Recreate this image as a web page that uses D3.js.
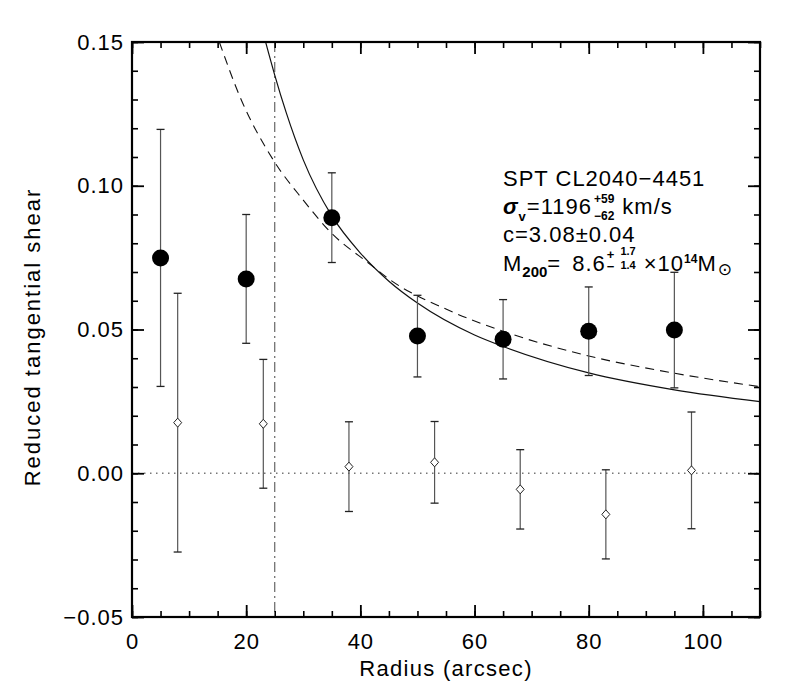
<!DOCTYPE html>
<html>
<head>
<meta charset="utf-8">
<script src="https://cdn.jsdelivr.net/npm/d3@7"></script>
<style>
body{margin:0;background:#fff;}
text{font-family:"Liberation Sans",Arial,sans-serif;fill:#000;}
</style>
</head>
<body>
<div id="canvas"></div>
<script>
// tangential shear bins (filled circles)
let radius = [5, 20, 35, 50, 65, 80, 95],
gammaT = [0.0749, 0.0676, 0.0889, 0.0477, 0.0466, 0.0494, 0.0498],
gammaErr = [0.0447, 0.0224, 0.0156, 0.0142, 0.0138, 0.0154, 0.0201];

// cross shear bins (open diamonds), shifted by 3 arcsec
let radiusX = [8, 23, 38, 53, 68, 83, 98],
gammaX = [0.0176, 0.0172, 0.0023, 0.0038, -0.0056, -0.0143, 0.0010],
gammaXErr = [0.0450, 0.0224, 0.0156, 0.0142, 0.0138, 0.0155, 0.0203];

// model curves
let nfwR = [23.4, 25, 27, 30, 35, 40, 45, 50, 60, 65, 80, 95, 110],
nfwG = [0.150, 0.1385, 0.1255, 0.1090, 0.0895, 0.0766, 0.0668, 0.0592, 0.0481, 0.0441, 0.0349, 0.0290, 0.0249];
let sisR = [15.3, 18.9, 24.8, 30, 34.7, 41.7, 45.2, 55, 65, 80, 95, 110],
sisG = [0.150, 0.1310, 0.1088, 0.0950, 0.0840, 0.0727, 0.0673, 0.0571, 0.0494, 0.0408, 0.0348, 0.0301];

let cutRadius = 25;

let xMajor = [0, 20, 40, 60, 80, 100],
xMinor = d3.range(0, 111, 5),
yMajor = [-0.05, 0, 0.05, 0.10, 0.15],
yMinor = d3.range(-5, 16, 1).map(d => d / 100);

let W = 800, H = 700,
pLeft = 132, pRight = 760, pTop = 42, pBottom = 617;

let canvas = d3.select('#canvas').append('svg').attr('width', W).attr('height', H);

let x = d3.scaleLinear().domain([0, 110]).range([pLeft, pRight]),
y = d3.scaleLinear().domain([-0.05, 0.15]).range([pBottom, pTop]);

canvas.append('defs').append('clipPath').attr('id', 'plotclip')
.append('rect')
.attr('x', pLeft).attr('y', pTop)
.attr('width', pRight - pLeft).attr('height', pBottom - pTop);

let plot = canvas.append('g').attr('clip-path', 'url(#plotclip)');

// zero line
plot.append('line')
.attr('x1', x(0)).attr('x2', x(110))
.attr('y1', y(0)).attr('y2', y(0))
.style('stroke', '#777')
.style('stroke-width', 1.3)
.style('stroke-dasharray', '1.5,4.5');

// inner radius cut
plot.append('line')
.attr('x1', x(cutRadius)).attr('x2', x(cutRadius))
.attr('y1', y(0.15)).attr('y2', y(-0.05))
.style('stroke', '#666')
.style('stroke-width', 1.2)
.style('stroke-dasharray', '10,4,2,4');

let line = d3.line().curve(d3.curveMonotoneX)
.x(d => x(d[0]))
.y(d => y(d[1]));

//NFW fit
plot.append('path')
.datum(d3.zip(nfwR, nfwG))
.attr('d', line)
.style('fill', 'none')
.style('stroke', '#111')
.style('stroke-width', 1.2);

//SIS fit
plot.append('path')
.datum(d3.zip(sisR, sisG))
.attr('d', line)
.style('fill', 'none')
.style('stroke', '#111')
.style('stroke-width', 1.1)
.style('stroke-dasharray', '9,6');

// error bars
function drawErrors(rs, vs, es){
	let g = plot.append('g');
	let data = d3.zip(rs, vs, es);
	g.selectAll('.ebar').data(data).enter().append('line')
	.attr('x1', d => x(d[0])).attr('x2', d => x(d[0]))
	.attr('y1', d => y(d[1] - d[2])).attr('y2', d => y(d[1] + d[2]))
	.style('stroke', '#555')
	.style('stroke-width', 1.2);
	[-1, 1].forEach(s => {
		g.selectAll('.ecap' + s).data(data).enter().append('line')
		.attr('x1', d => x(d[0]) - 4).attr('x2', d => x(d[0]) + 4)
		.attr('y1', d => y(d[1] + s * d[2])).attr('y2', d => y(d[1] + s * d[2]))
		.style('stroke', '#222')
		.style('stroke-width', 1.3);
	});
}
drawErrors(radius, gammaT, gammaErr);
drawErrors(radiusX, gammaX, gammaXErr);

plot.append('g').selectAll('circle')
.data(d3.zip(radius, gammaT))
.enter().append('circle')
.attr('cx', d => x(d[0]))
.attr('cy', d => y(d[1]))
.attr('r', 8.5)
.style('fill', '#000');

plot.append('g').selectAll('path')
.data(d3.zip(radiusX, gammaX))
.enter().append('path')
.attr('d', d => {
	let cx = x(d[0]), cy = y(d[1]);
	return 'M' + cx + ',' + (cy - 4.5) + 'L' + (cx + 4) + ',' + cy + 'L' + cx + ',' + (cy + 4.5) + 'L' + (cx - 4) + ',' + cy + 'Z';
})
.style('fill', '#fff')
.style('stroke', '#222')
.style('stroke-width', 1);

// axes
function styleAxis(g, w){
	g.select('.domain').remove();
	g.selectAll('.tick line').style('stroke', '#000').style('stroke-width', w);
	g.selectAll('.tick text')
	.style('font-size', '22px')
	.style('letter-spacing', '1px')
	.style('font-family', '"Liberation Sans",Arial,sans-serif');
}

canvas.append('g').attr('transform', 'translate(0,' + pBottom + ')')
.call(d3.axisBottom(x).tickValues(xMinor).tickSize(-6).tickFormat(''))
.call(g => styleAxis(g, 1.6));
canvas.append('g').attr('transform', 'translate(0,' + pBottom + ')')
.call(d3.axisBottom(x).tickValues(xMajor).tickSize(-12).tickPadding(16).tickFormat(d3.format('d')))
.call(g => styleAxis(g, 1.8));
canvas.append('g').attr('transform', 'translate(0,' + pTop + ')')
.call(d3.axisTop(x).tickValues(xMinor).tickSize(-6).tickFormat(''))
.call(g => styleAxis(g, 1.6));
canvas.append('g').attr('transform', 'translate(0,' + pTop + ')')
.call(d3.axisTop(x).tickValues(xMajor).tickSize(-12).tickFormat(''))
.call(g => styleAxis(g, 1.8));

canvas.append('g').attr('transform', 'translate(' + pLeft + ',0)')
.call(d3.axisLeft(y).tickValues(yMinor).tickSize(-6).tickFormat(''))
.call(g => styleAxis(g, 1.6));
canvas.append('g').attr('transform', 'translate(' + pLeft + ',0)')
.call(d3.axisLeft(y).tickValues(yMajor).tickSize(-12).tickPadding(8).tickFormat(d3.format('.2f')))
.call(g => styleAxis(g, 1.8));
canvas.append('g').attr('transform', 'translate(' + pRight + ',0)')
.call(d3.axisRight(y).tickValues(yMinor).tickSize(-6).tickFormat(''))
.call(g => styleAxis(g, 1.6));
canvas.append('g').attr('transform', 'translate(' + pRight + ',0)')
.call(d3.axisRight(y).tickValues(yMajor).tickSize(-12).tickFormat(''))
.call(g => styleAxis(g, 1.8));

// frame
canvas.append('rect')
.attr('x', pLeft).attr('y', pTop)
.attr('width', pRight - pLeft).attr('height', pBottom - pTop)
.style('fill', 'none')
.style('stroke', '#000')
.style('stroke-width', 2.2);

// axis titles
canvas.append('text')
.text('Radius (arcsec)')
.attr('x', 446)
.attr('y', 676)
.attr('text-anchor', 'middle')
.style('font-size', '22px')
.style('letter-spacing', '1.3px');

canvas.append('text')
.text('Reduced tangential shear')
.attr('transform', 'translate(40,337) rotate(-90)')
.attr('text-anchor', 'middle')
.style('font-size', '22px')
.style('letter-spacing', '2px');

// annotation block, one text per line, pieces as tspans
let notes = canvas.append('g').style('font-size', '22px');
function noteLine(tx, ty, parts){
	let t = notes.append('text').attr('x', tx).attr('y', ty);
	parts.forEach(p => {
		let s = t.append('tspan').text(p.s)
		.style('font-size', (p.size || 22) + 'px')
		.style('letter-spacing', (p.size || 22) > 16 ? '1px' : '0px');
		if(p.dx) s.attr('dx', p.dx);
		if(p.dy) s.attr('dy', p.dy);
		if(p.bold) s.style('font-weight', 'bold');
		if(p.italic) s.style('font-style', 'italic');
		if(p.font) s.style('font-family', p.font);
	});
	return t;
}

noteLine(503, 186, [{s: 'SPT CL2040\u22124451'}]);

noteLine(503, 214, [
	{s: '\u03c3', bold: true, italic: true},
	{s: 'v', size: 13, bold: true, dy: 7},
	{s: '=1196', dy: -7, dx: 1},
	{s: '+59', size: 12, bold: true, dx: 2, dy: -11},
	{s: '\u221262', size: 12, bold: true, dx: -20.4, dy: 17},
	{s: 'km/s', dx: 8, dy: -6}
]);

noteLine(503, 242, [{s: 'c=3.08\u00b10.04'}]);

noteLine(503, 271, [
	{s: 'M'},
	{s: '200', size: 15, bold: true, dy: 6},
	{s: '=', dy: -6},
	{s: '8.6', dx: 11},
	{s: '+', size: 13, bold: true, dx: 1, dy: -12},
	{s: '\u2212', size: 13, bold: true, dx: -7.6, dy: 12},
	{s: '1.7', size: 11, bold: true, dx: 6, dy: -16},
	{s: '1.4', size: 11, bold: true, dx: -15.3, dy: 14},
	{s: '\u00d710', dx: 8, dy: 2},
	{s: '14', size: 12, bold: true, dy: -8},
	{s: 'M', dy: 8},
	{s: '\u2299', size: 17, dx: 1, dy: 4, font: '"DejaVu Sans",sans-serif'}
]);
</script>
</body>
</html>
